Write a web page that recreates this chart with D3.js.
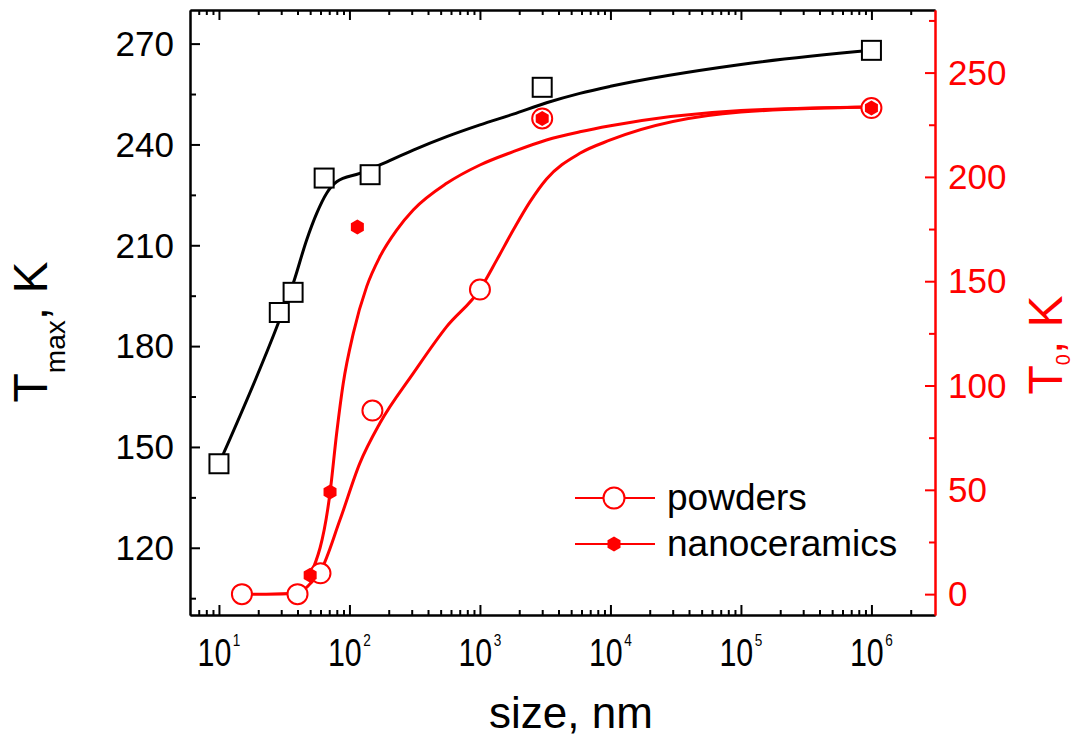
<!DOCTYPE html>
<html><head><meta charset="utf-8">
<script src="https://cdn.jsdelivr.net/npm/d3@7"></script>
<style>
body{margin:0;background:#fff}
svg{display:block}
text{font-family:"Liberation Sans",Arial,Helvetica,sans-serif}
</style>
</head><body>
<svg id="c" width="1084" height="740"></svg>
<script>
// ---- measured points ----
const tmaxSize  = [10, 29, 37, 64, 144, 3000, 1e6];
const tmaxValue = [145, 190, 196, 230, 231, 257, 268];
const powderSize = [15, 40, 60, 150, 1000, 3000, 1e6];
const powderT0   = [0, 0, 10, 88, 146, 228, 233];
const nanoSize = [50, 71, 115, 3000, 1e6];
const nanoT0   = [9, 49, 176, 228, 233];

// ---- smooth guide curves ----
const tmaxFitSize  = [10, 28.8, 37.1, 47, 56.1, 66.9, 79.8, 120, 171, 308, 556, 1000, 1800, 3240, 5830, 1e4, 1e5, 1e6];
const tmaxFitValue = [145, 187.3, 198.7, 211.6, 219.5, 225.5, 228.9, 231.4, 233.9, 238.3, 242.3, 245.8, 249.0, 252.4, 255.2, 257.3, 263.8, 268];
const powderFitSize = [15, 23, 40, 50, 60, 84.5, 120, 171, 308, 556, 1000, 1343, 1800, 2415, 3240, 5830, 1e4, 1e5, 1e6];
const powderFitT0   = [0, 0, 0.4, 5, 11, 35.5, 62.7, 81.9, 105.8, 128.2, 146.1, 160.1, 174.5, 188.0, 199.0, 211.3, 217.7, 231.1, 233.5];
const nanoFitSize = [50, 71, 79.8, 89.6, 107, 135.5, 171, 230, 308, 556, 1000, 1800, 3240, 5830, 1e4, 1e5, 1e6];
const nanoFitT0   = [8.7, 48.6, 77.1, 101, 125, 147.4, 161.7, 174.5, 184.1, 196.9, 205.7, 212.1, 217.7, 221.6, 224.5, 231.8, 233.5];

// ---- ticks & labels ----
const xMajorTicks = [1e1, 1e2, 1e3, 1e4, 1e5, 1e6];
const yLeftTicks  = [120, 150, 180, 210, 240, 270];
const yLeftMinor  = [105, 135, 165, 195, 225, 255];
const yRightTicks = [0, 50, 100, 150, 200, 250];
const yRightMinor = [25, 75, 125, 175, 225, 275];
const legendLabels = ["powders", "nanoceramics"];

const RED = "#ff0000";
const svg = d3.select("#c");
const L = 190, R = 935, T = 10, B = 615;

const x  = d3.scaleLog().domain([6, 3.07e6]).range([L, R]);
const yL = d3.scaleLinear().domain([100, 280]).range([B, T]);
const yR = d3.scaleLinear().domain([-10, 280]).range([B, T]);

const xMinor = x.ticks().filter(v => !xMajorTicks.includes(v) && v > 6.5 && v < 2.5e6);

function styleAxis(g, color) {
  g.attr("color", color);
  g.select(".domain").attr("stroke-width", 2);
  g.selectAll(".tick line").attr("stroke-width", 2);
  g.selectAll(".tick text").remove();
}

// bottom axis
svg.append("g").attr("transform", `translate(0,${B})`)
  .call(d3.axisBottom(x).tickValues(xMinor).tickSize(-5).tickSizeOuter(0)).call(g => styleAxis(g, "#000"));
svg.append("g").attr("transform", `translate(0,${B})`)
  .call(d3.axisBottom(x).tickValues(xMajorTicks).tickSize(-10).tickSizeOuter(0)).call(g => styleAxis(g, "#000"));
// top axis
svg.append("g").attr("transform", `translate(0,${T})`)
  .call(d3.axisTop(x).tickValues(xMinor).tickSize(-5).tickSizeOuter(0)).call(g => styleAxis(g, "#000"));
svg.append("g").attr("transform", `translate(0,${T})`)
  .call(d3.axisTop(x).tickValues(xMajorTicks).tickSize(-10).tickSizeOuter(0)).call(g => styleAxis(g, "#000"));
// left axis
svg.append("g").attr("transform", `translate(${L},0)`)
  .call(d3.axisLeft(yL).tickValues(yLeftMinor).tickSize(-6).tickSizeOuter(0)).call(g => styleAxis(g, "#000"));
svg.append("g").attr("transform", `translate(${L},0)`)
  .call(d3.axisLeft(yL).tickValues(yLeftTicks).tickSize(-10).tickSizeOuter(0)).call(g => styleAxis(g, "#000"));
// right axis
svg.append("g").attr("transform", `translate(${R},0)`)
  .call(d3.axisRight(yR).tickValues(yRightMinor).tickSize(-6).tickSizeOuter(0)).call(g => styleAxis(g, RED));
svg.append("g").attr("transform", `translate(${R},0)`)
  .call(d3.axisRight(yR).tickValues(yRightTicks).tickSize(-10).tickSizeOuter(0)).call(g => styleAxis(g, RED));

// tick labels
const xl = svg.append("g").selectAll("text").data(xMajorTicks).join("text")
  .attr("transform", d => `translate(${x(d)},666) scale(0.8,1)`)
  .attr("text-anchor", "middle").attr("font-size", 38).attr("fill", "#000");
xl.append("tspan").text("10");
xl.append("tspan").attr("font-size", 17).attr("dy", -20).attr("dx", 2).text(d => String(Math.round(Math.log10(d))));

svg.append("g").selectAll("text").data(yLeftTicks).join("text")
  .attr("x", 174).attr("y", d => yL(d)).attr("dy", "0.35em")
  .attr("text-anchor", "end").attr("font-size", 35).attr("fill", "#000").text(d => d);

svg.append("g").selectAll("text").data(yRightTicks).join("text")
  .attr("x", 948).attr("y", d => yR(d)).attr("dy", "0.35em")
  .attr("text-anchor", "start").attr("font-size", 35).attr("fill", RED).text(d => d);

// axis titles
svg.append("text").attr("x", 571).attr("y", 728).attr("text-anchor", "middle")
  .attr("font-size", 44).attr("fill", "#000").text("size, nm");

const tl = svg.append("text").attr("transform", "translate(47,332) rotate(-90)")
  .attr("text-anchor", "middle").attr("font-size", 48).attr("fill", "#000");
tl.append("tspan").text("T");
tl.append("tspan").attr("font-size", 28).attr("dy", 18).text("max");
tl.append("tspan").attr("dy", -18).text(", K");

const tr = svg.append("text").attr("transform", "translate(1062,345) rotate(-90)")
  .attr("text-anchor", "middle").attr("font-size", 48).attr("fill", RED);
tr.append("tspan").text("T");
tr.append("tspan").attr("font-size", 20).attr("dy", 8).text("0");
tr.append("tspan").attr("dy", -8).text(", K");

// curves
const lineL = d3.line().x(d => x(d[0])).y(d => yL(d[1])).curve(d3.curveMonotoneX);
const lineR = d3.line().x(d => x(d[0])).y(d => yR(d[1])).curve(d3.curveMonotoneX);
const zip = (a, b) => a.map((v, i) => [v, b[i]]);

svg.append("path").attr("d", lineL(zip(tmaxFitSize, tmaxFitValue)))
  .attr("fill", "none").attr("stroke", "#000").attr("stroke-width", 3);
svg.append("path").attr("d", lineR(zip(powderFitSize, powderFitT0)))
  .attr("fill", "none").attr("stroke", RED).attr("stroke-width", 3);
svg.append("path").attr("d", lineR(zip(nanoFitSize, nanoFitT0)))
  .attr("fill", "none").attr("stroke", RED).attr("stroke-width", 3);

// markers
const hex = r => {
  const p = d3.range(6).map(k => {
    const a = (-90 + 60 * k) * Math.PI / 180;
    return [r * Math.cos(a), r * Math.sin(a)];
  });
  return "M" + p.map(q => q.join(",")).join("L") + "Z";
};

svg.append("g").selectAll("rect").data(zip(tmaxSize, tmaxValue)).join("rect")
  .attr("x", d => x(d[0]) - 9.5).attr("y", d => yL(d[1]) - 9.5)
  .attr("width", 19).attr("height", 19)
  .attr("fill", "#fff").attr("stroke", "#000").attr("stroke-width", 2);

svg.append("g").selectAll("circle").data(zip(powderSize, powderT0)).join("circle")
  .attr("cx", d => x(d[0])).attr("cy", d => yR(d[1])).attr("r", 10)
  .attr("fill", "#fff").attr("stroke", RED).attr("stroke-width", 2);

svg.append("g").selectAll("path").data(zip(nanoSize, nanoT0)).join("path")
  .attr("transform", d => `translate(${x(d[0])},${yR(d[1])})`)
  .attr("d", hex(7.5)).attr("fill", RED);

// legend
const lg = svg.append("g");
const rows = [498, 544];
legendLabels.forEach((lab, i) => {
  const y = rows[i];
  lg.append("line").attr("x1", 575).attr("x2", 655).attr("y1", y).attr("y2", y)
    .attr("stroke", RED).attr("stroke-width", 2);
  if (i === 0) {
    lg.append("circle").attr("cx", 614).attr("cy", y).attr("r", 10.5)
      .attr("fill", "#fff").attr("stroke", RED).attr("stroke-width", 2);
  } else {
    lg.append("path").attr("transform", `translate(614,${y})`).attr("d", hex(7.5)).attr("fill", RED);
  }
  lg.append("text").attr("x", 667).attr("y", y + 12).attr("font-size", 37)
    .attr("fill", "#000").text(lab);
});
</script>
</body></html>
